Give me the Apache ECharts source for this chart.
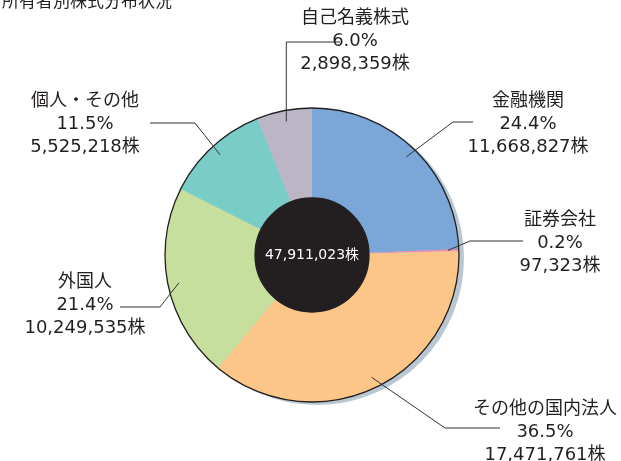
<!DOCTYPE html>
<html>
<head>
<meta charset="utf-8">
<script src="https://cdn.jsdelivr.net/npm/echarts@6/dist/echarts.min.js"></script>
<style>
  html, body { margin: 0; padding: 0; background: #fff; }
  #pie-chart { width: 621px; height: 461px; }
</style>
</head>
<body>
<div id="pie-chart"></div>
<script>
// 所有者別株式分布状況
var categories = ['金融機関', '証券会社', 'その他の国内法人', '外国人', '個人・その他', '自己名義株式'];
var shares = [11668827, 97323, 17471761, 10249535, 5525218, 2898359];
var totalShares = 47911023;
var colors = ['#7ba6d8', '#e98db4', '#fcc688', '#c6df9d', '#7acdc6', '#bcb5c6'];

// ラベルの位置と引き出し線（折れ点・終点）
var labelPlaces = [
    {x: 528, y: 90, bend: [453, 122], end: [473, 122]},
    {x: 560, y: 209, bend: [470, 241], end: [523, 241]},
    {x: 545, y: 398, bend: [445, 428], end: [500, 428]},
    {x: 85, y: 271, bend: [160, 307], end: [120, 307]},
    {x: 85, y: 90, bend: [195, 123], end: [150, 123]},
    {x: 355, y: 7, bend: null, end: [340, 42]}
];

var center = [312, 255];
var lineStartR = 136; // 引き出し線の始点（扇形の内側）
var textColor = '#231f20';
var fontFam = '"DejaVu Sans", "Noto Sans CJK JP", sans-serif';

function fmt(n) {
    return n.toString().replace(/\B(?=(\d{3})+(?!\d))/g, ',');
}

var pieData = categories.map(function (name, i) {
    return {name: name, value: shares[i], itemStyle: {color: colors[i]}};
});

var myChart = echarts.init(document.getElementById('pie-chart'));
var option = {
    animation: false,
    title: {
        text: '所有者別株式分布状況',
        left: -3,
        top: -13,
        textStyle: {
            color: textColor,
            fontSize: 17,
            fontWeight: 'normal',
            fontFamily: '"Noto Sans CJK JP", sans-serif'
        }
    },
    series: [
        { // 影
            type: 'pie',
            silent: true,
            center: [center[0] + 5, center[1] + 3],
            radius: [0, 147],
            label: {show: false},
            labelLine: {show: false},
            itemStyle: {color: '#b8c7d1'},
            z: 1,
            data: [{value: 1, name: 'shadow'}]
        },
        {
            type: 'pie',
            silent: true,
            center: center,
            radius: [57, 147],
            startAngle: 90,
            clockwise: true,
            label: {show: false},
            labelLine: {show: false},
            itemStyle: {borderWidth: 0},
            z: 2,
            data: pieData
        },
        { // 外周線
            type: 'pie',
            silent: true,
            center: center,
            radius: [57, 147],
            label: {show: false},
            labelLine: {show: false},
            itemStyle: {color: 'rgba(0,0,0,0)', borderColor: textColor, borderWidth: 1.3},
            z: 3,
            data: [{value: 1, name: 'outline'}]
        },
        { // 中央
            type: 'pie',
            silent: true,
            center: center,
            radius: [0, 57],
            itemStyle: {color: '#231f20'},
            label: {
                show: true,
                position: 'center',
                formatter: fmt(totalShares) + '株',
                color: '#fff',
                fontSize: 14,
                fontFamily: fontFam
            },
            labelLine: {show: false},
            z: 4,
            data: [{value: totalShares, name: 'total'}]
        },
        { // ラベルと引き出し線
            type: 'pie',
            silent: true,
            center: center,
            radius: [57, 147],
            startAngle: 90,
            clockwise: true,
            percentPrecision: 1,
            avoidLabelOverlap: false,
            itemStyle: {color: 'rgba(0,0,0,0)'},
            label: {
                show: true,
                position: 'outside',
                color: textColor,
                fontSize: 18,
                lineHeight: 23,
                align: 'center',
                fontFamily: fontFam,
                formatter: function (p) {
                    return p.name + '\n' + p.percent.toFixed(1) + '%\n' + fmt(p.value) + '株';
                }
            },
            labelLine: {
                show: true,
                lineStyle: {color: '#333', width: 1}
            },
            labelLayout: function (params) {
                var lp = labelPlaces[params.dataIndex];
                var p0 = params.labelLinePoints[0];
                var dx = p0[0] - center[0], dy = p0[1] - center[1];
                var d = Math.sqrt(dx * dx + dy * dy);
                var start = [center[0] + dx * lineStartR / d, center[1] + dy * lineStartR / d];
                var bend = lp.bend ? lp.bend : [start[0], lp.end[1]];
                return {
                    x: lp.x,
                    y: lp.y,
                    align: 'center',
                    verticalAlign: 'top',
                    labelLinePoints: [start, bend, lp.end]
                };
            },
            z: 10,
            data: categories.map(function (name, i) {
                return {name: name, value: shares[i]};
            })
        }
    ]
};
myChart.setOption(option);
</script>
</body>
</html>
